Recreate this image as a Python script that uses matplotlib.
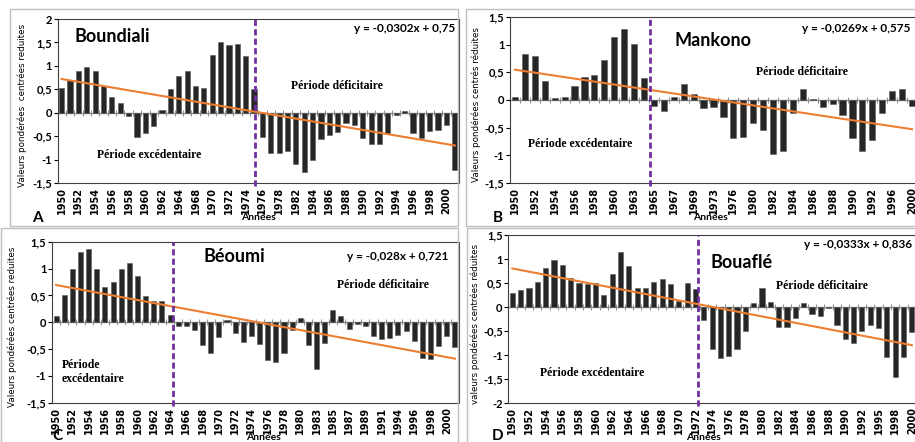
import numpy as np
import matplotlib
matplotlib.use('Agg')
import matplotlib.pyplot as plt
from matplotlib.patches import Rectangle

# Boundiali (A)
years_a = list(range(1950, 1965)) + [1966] + list(range(1968, 1979)) + [1980] + list(range(1982, 2002))
vals_a = [0.53, 0.69, 0.88, 0.97, 0.89, 0.56, 0.34, 0.21, -0.06, -0.51, -0.44, -0.28, 0.06, 0.50,
          0.79, 0.89, 0.56, 0.52, 1.24, 1.50, 1.44, 1.46, 1.22, 0.50,
          -0.52, -0.85, -0.86, -0.82, -1.10, -1.27, -1.00, -0.57, -0.48, -0.42, -0.23, -0.27,
          -0.55, -0.67, -0.67, -0.45, -0.05, 0.03, -0.43, -0.55, -0.38, -0.36, -0.27, -1.22]

# Mankono (B)
years_b = list(range(1950, 1961)) + list(range(1962, 1971)) + [1973, 1974, 1976, 1978] \
    + list(range(1980, 1993)) + [1994, 1996, 1998, 2000]
vals_b = [0.06, 0.83, 0.80, 0.35, 0.03, 0.05, 0.25, 0.42, 0.46, 0.72, 1.14, 1.28, 1.01, 0.40,
          -0.11, -0.19, 0.06, 0.29, 0.10, -0.14, -0.12, -0.31, -0.68, -0.67, -0.42, -0.55,
          -0.98, -0.93, -0.24, 0.20, 0.01, -0.12, -0.08, -0.28, -0.69, -0.93, -0.73, -0.24,
          0.16, 0.20, -0.11]

# Beoumi (C)
years_c = list(range(1950, 1981)) + list(range(1982, 1992)) + list(range(1993, 2002))
vals_c = [0.12, 0.50, 0.99, 1.31, 1.36, 0.99, 0.65, 0.75, 0.99, 1.10, 0.87, 0.49, 0.40, 0.39,
          0.14, -0.08, -0.08, -0.15, -0.42, -0.58, -0.27, 0.05, -0.20, -0.36, -0.25, -0.41,
          -0.70, -0.75, -0.57, -0.14, 0.08, -0.43, -0.88, -0.38, 0.23, 0.11, -0.12, -0.04,
          -0.07, -0.26, -0.32, -0.30, -0.23, -0.17, -0.35, -0.66, -0.68, -0.44, -0.25, -0.47]

# Bouafle (D)
years_d = list(range(1950, 1993)) + [1994, 1995, 1997, 1998, 1999, 2000]
vals_d = [0.30, 0.36, 0.39, 0.53, 0.82, 0.97, 0.88, 0.60, 0.51, 0.47, 0.51, 0.24, 0.68, 1.15,
          0.85, 0.39, 0.39, 0.53, 0.59, 0.47, 0.12, 0.50, 0.38, -0.28, -0.88, -1.06, -1.02,
          -0.87, -0.50, 0.09, 0.39, 0.10, -0.42, -0.42, -0.23, 0.08, -0.14, -0.19, -0.03,
          -0.37, -0.67, -0.74, -0.50, -0.37, -0.43, -1.05, -1.45, -1.05, -0.52]

W, H = 915, 442
narrow = ['Liberation Sans Narrow', 'DejaVu Sans']
sans = ['Lato', 'DejaVu Sans']
serif = ['Liberation Serif', 'DejaVu Serif']


def fx(x, y):
    return x / W, 1 - y / H


def draw_panel(fig, box, years, vals, slope, inter, ylim, cut, ylabel, labx):
    l, t, r, b = box
    ax = fig.add_axes([l / W, 1 - b / H, (r - l) / W, (b - t) / H])
    x = np.arange(len(vals))
    ax.bar(x, vals, width=0.62, color='#262626', edgecolor='#5a5a5a', linewidth=0.4, zorder=2)
    ax.plot(x, slope * (x + 1) + inter, color='#ED7D31', lw=1.5, zorder=3)
    ax.axhline(0, color='#8c8c8c', lw=1.0, zorder=1)
    bnd = np.arange(len(vals) + 1) - 0.5
    ax.plot(bnd, np.zeros(len(bnd)), ls='none', marker='|', ms=4, mew=0.7, color='#8c8c8c', zorder=1)
    ax.axvline(cut, ymin=-0.02, ymax=1.0, color='#7030A0', ls=(0, (2.2, 1.2)), lw=2,
               zorder=4, clip_on=False)
    ax.set_xlim(-0.5, len(vals) - 0.5)
    ax.set_ylim(*ylim)
    yt = np.arange(ylim[0], ylim[1] + 0.01, 0.5)
    ax.set_yticks(yt)
    ax.set_yticklabels([('%g' % v).replace('.', ',') for v in yt],
                       fontsize=8, fontweight='bold', family=sans)
    ax.set_xticks(x[::2])
    ax.set_xticklabels([str(y) for y in years[::2]], rotation=90, fontsize=7,
                       fontweight='bold', family=narrow)
    ax.tick_params(axis='x', length=0, pad=3)
    ax.tick_params(axis='y', length=3, width=0.8, pad=1)
    for s in ax.spines.values():
        s.set_color('#404040')
        s.set_linewidth(0.8)
    ax.set_ylabel(ylabel, fontsize=6.3, family=narrow)
    ax.yaxis.set_label_coords(labx, 0.47)
    return ax


fig = plt.figure(figsize=(W / 100, H / 100), dpi=100)

# panel frames
for (x0, y0, x1, y1) in [(10, 9, 458, 226), (466, 9, 918, 226), (1, 228, 458, 445), (467, 228, 918, 445)]:
    fig.add_artist(Rectangle(fx(x0, y1), (x1 - x0) / W, (y1 - y0) / H, transform=fig.transFigure,
                             fill=False, edgecolor='#bfbfbf', lw=1))

draw_panel(fig, (57.5, 19, 459, 183), years_a, vals_a, -0.0302, 0.75, (-1.5, 2), 23.1,
           'Valeurs pondérées  centrées reduites', -0.075)
draw_panel(fig, (510, 17, 917, 183), years_b, vals_b, -0.0269, 0.575, (-1.5, 1.5), 13.6,
           'Valeurs pondérées centrés réduites', -0.072)
draw_panel(fig, (52, 241.7, 459, 402.7), years_c, vals_c, -0.028, 0.721, (-1.5, 1.5), 14.4,
           'Valeurs pondérées centrées reduites', -0.085)
draw_panel(fig, (508.2, 235, 916, 403), years_d, vals_d, -0.0333, 0.836, (-2, 1.5), 22.3,
           'valeurs pondérées centrées réduites', -0.07)

# station names
fig.text(*fx(75, 36), 'Boundiali', fontsize=13, fontweight='bold', family=sans, va='center')
fig.text(*fx(713, 41), 'Mankono', fontsize=13, fontweight='bold', family=sans, va='center', ha='center')
fig.text(*fx(234, 257), 'Béoumi', fontsize=13, fontweight='bold', family=sans, va='center', ha='center')
fig.text(*fx(742, 262), 'Bouaflé', fontsize=13, fontweight='bold', family=sans, va='center', ha='center')

# equations
eq = dict(fontsize=8.5, fontweight='bold', family=sans, va='center', ha='right')
fig.text(*fx(455, 28), 'y = -0,0302x + 0,75', **eq)
fig.text(*fx(910, 29), 'y = -0,0269x + 0,575', **eq)
fig.text(*fx(448, 257), 'y = -0,028x + 0,721', **eq)
fig.text(*fx(912, 245), 'y = -0,0333x + 0,836', **eq)

# periods
per = dict(fontsize=8.5, fontweight='bold', family=serif, va='center', ha='center')
fig.text(*fx(337, 86), 'Période déficitaire', **per)
fig.text(*fx(149, 155), 'Période excédentaire', **per)
fig.text(*fx(802, 72), 'Période déficitaire', **per)
fig.text(*fx(580, 144), 'Période excédentaire', **per)
fig.text(*fx(383, 285), 'Période déficitaire', **per)
fig.text(*fx(62, 372), 'Période\nexcédentaire', fontsize=8.5, fontweight='bold', family=serif,
         va='center', ha='left', linespacing=1.3)
fig.text(*fx(822, 286), 'Période déficitaire', **per)
fig.text(*fx(592, 373), 'Période excédentaire', **per)

# letters and axis titles
let = dict(fontsize=11, fontweight='bold', family=sans, va='center', ha='center')
fig.text(*fx(37, 218), 'A', **let)
fig.text(*fx(498, 218), 'B', **let)
fig.text(*fx(57, 436), 'C', **let)
fig.text(*fx(498, 436), 'D', **let)
ann = dict(fontsize=7.5, fontweight='bold', family=sans, va='center', ha='center')
fig.text(*fx(258, 218), 'Années', **ann)
fig.text(*fx(710, 218), 'Années', **ann)
fig.text(*fx(263, 438), 'Années', **ann)
fig.text(*fx(703, 437), 'Années', **ann)

fig.savefig('out.png', dpi=100)
